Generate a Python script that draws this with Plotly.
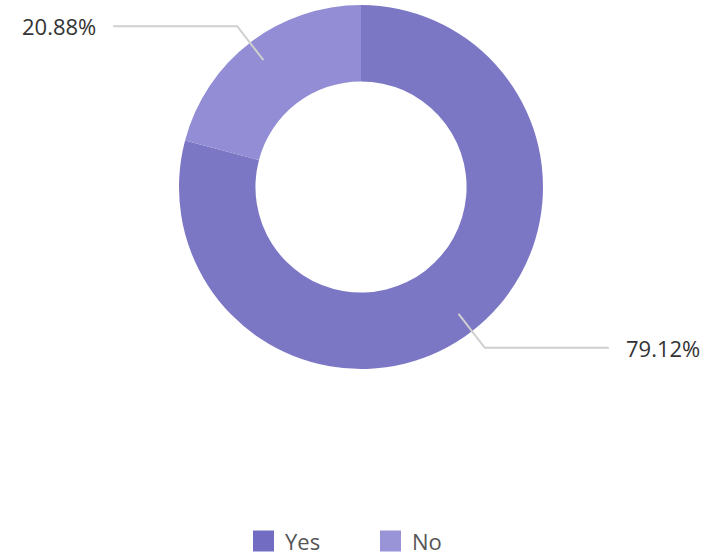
import math
import plotly.graph_objects as go

# Survey answers and their shares (%)
labels = ["Yes", "No"]
shares = [79.12, 20.88]
colors = ["#7c77c5", "#928dd4"]

W, H = 716, 560
# donut placement in pixels
cx, cy, r_out = 361, 187, 182
hole = 0.58

fig = go.Figure(
    go.Pie(
        labels=labels,
        values=shares,
        hole=hole,
        sort=False,
        direction="clockwise",
        rotation=0,
        marker=dict(colors=colors, line=dict(width=0)),
        textinfo="none",
        hoverinfo="label+percent",
        showlegend=False,
        domain=dict(
            x=[(cx - r_out) / W, (cx + r_out) / W],
            y=[1 - (cy + r_out) / H, 1 - (cy - r_out) / H],
        ),
    )
)


def px(x):
    return x / W


def py(y):
    return 1 - y / H


FONT = "Open Sans, Arial, sans-serif"
shapes, annotations = [], []

# leader lines and percentage labels, placed from each slice's mid angle
start = 90.0  # 12 o'clock, going clockwise
total = sum(shares)
for lab, val in zip(labels, shares):
    sweep = 360.0 * val / total
    mid = math.radians(start - sweep / 2)
    start -= sweep
    ux, uy = math.cos(mid), -math.sin(mid)
    x0, y0 = cx + 160 * ux, cy + 160 * uy
    x1, y1 = cx + 203 * ux, cy + 203 * uy
    side = 1 if ux >= 0 else -1
    x2 = x1 + side * 124
    shapes.append(dict(
        type="path", xref="paper", yref="paper",
        path=f"M {px(x0)},{py(y0)} L {px(x1)},{py(y1)} L {px(x2)},{py(y1)}",
        line=dict(color="#cfcfcf", width=2),
    ))
    annotations.append(dict(
        x=px(x2 + side * 15), y=py(y1), xref="paper", yref="paper",
        text=f"{val:.2f}%", showarrow=False,
        xanchor="left" if side > 0 else "right", yanchor="middle",
        font=dict(family=FONT, size=22, color="#333333"),
    ))

# legend: coloured squares with the answer names, centred under the donut
legend_colors = ["#726cc2", "#9993d8"]
leg_y, sq = 541, 21
item_x = [253, 380]
for lab, col, lx in zip(labels, legend_colors, item_x):
    shapes.append(dict(
        type="rect", xref="paper", yref="paper",
        x0=px(lx), x1=px(lx + sq), y0=py(leg_y + sq / 2), y1=py(leg_y - sq / 2),
        fillcolor=col, line=dict(width=0),
    ))
    annotations.append(dict(
        x=px(lx + sq + 9), y=py(leg_y), xref="paper", yref="paper",
        text=lab, showarrow=False, xanchor="left", yanchor="middle",
        font=dict(family=FONT, size=22, color="#555555"),
    ))

fig.update_layout(
    width=W, height=H,
    margin=dict(l=0, r=0, t=0, b=0),
    paper_bgcolor="white",
    plot_bgcolor="white",
    font=dict(family=FONT, color="#555555"),
    shapes=shapes,
    annotations=annotations,
    showlegend=False,
)

fig.write_html("out.html")
